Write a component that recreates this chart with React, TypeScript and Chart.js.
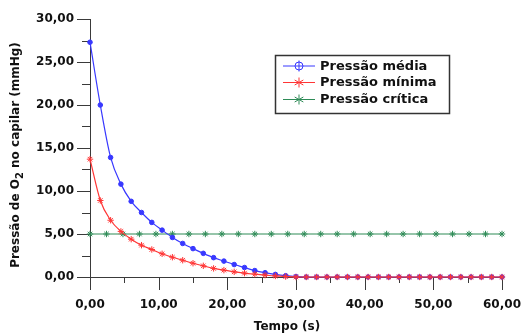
import React, { useEffect, useRef } from "react";
import { Chart, registerables } from "chart.js";

Chart.register(...registerables);

// Time points (s)
const tempoMedia = [0, 1.5, 3, 4.5, 6, 7.5, 9, 10.5, 12, 13.5, 15, 16.5, 18, 19.5, 21, 22.5, 24, 25.5, 27, 28.5, 30, 31.5, 33, 34.5, 36, 37.5, 39, 40.5, 42, 43.5, 45, 46.5, 48, 49.5, 51, 52.5, 54, 55.5, 57, 58.5, 60];
const tempoMinima = [0, 1.5, 3, 4.5, 6, 7.5, 9, 10.5, 12, 13.5, 15, 16.5, 18, 19.5, 21, 22.5, 24, 25.5, 27, 28.5, 30, 31.5, 33, 34.5, 36, 37.5, 39, 40.5, 42, 43.5, 45, 46.5, 48, 49.5, 51, 52.5, 54, 55.5, 57, 58.5, 60];
const tempoCritica = [0, 2.4, 4.8, 7.2, 9.6, 12, 14.4, 16.8, 19.2, 21.6, 24, 26.4, 28.8, 31.2, 33.6, 36, 38.4, 40.8, 43.2, 45.6, 48, 50.4, 52.8, 55.2, 57.6, 60];

// Pressure values (mmHg)
const pressaoMedia = [27.3, 20.0, 13.9, 10.8, 8.8, 7.5, 6.35, 5.45, 4.6, 3.9, 3.3, 2.75, 2.25, 1.85, 1.45, 1.1, 0.75, 0.5, 0.3, 0.15, 0.05, 0, 0, 0, 0, 0, 0, 0, 0, 0, 0, 0, 0, 0, 0, 0, 0, 0, 0, 0, 0];
const pressaoMinima = [13.7, 8.9, 6.6, 5.3, 4.4, 3.7, 3.2, 2.7, 2.3, 1.95, 1.6, 1.3, 1.0, 0.8, 0.6, 0.45, 0.33, 0.22, 0.12, 0.05, 0, 0, 0, 0, 0, 0, 0, 0, 0, 0, 0, 0, 0, 0, 0, 0, 0, 0, 0, 0, 0];
const pressaoCritica = [5, 5, 5, 5, 5, 5, 5, 5, 5, 5, 5, 5, 5, 5, 5, 5, 5, 5, 5, 5, 5, 5, 5, 5, 5, 5];

// Tick marks
const xTickMarks = [0, 5, 10, 15, 20, 25, 30, 35, 40, 45, 50, 55, 60];
const yTickMarks = [0, 2.5, 5, 7.5, 10, 12.5, 15, 17.5, 20, 22.5, 25, 27.5, 30];

const seriesLabels = ["Pressão média", "Pressão mínima", "Pressão crítica"];
const yTitleParts = ["Pressão de O", "2", " no capilar (mmHg)"];
const xTitle = "Tempo (s)";

const BLUE = "#3838ff";
const RED = "#ff3535";
const GREEN = "#2e8b57";
const AXIS = "#3a3a3a";
const FONT = "'DejaVu Sans', Verdana, sans-serif";

const fmt = (v: number) => v.toFixed(2).replace(".", ",");

function drawStar(ctx: CanvasRenderingContext2D, x: number, y: number, r: number) {
  ctx.beginPath();
  for (let k = 0; k < 3; k++) {
    const a = Math.PI / 2 + (k * Math.PI) / 3;
    ctx.moveTo(x + r * Math.cos(a), y + r * Math.sin(a));
    ctx.lineTo(x - r * Math.cos(a), y - r * Math.sin(a));
  }
  ctx.stroke();
}

const decorPlugin = {
  id: "decor",
  beforeDatasetsDraw(chart: any) {
    const ctx = chart.ctx as CanvasRenderingContext2D;
    const { left, right, top, bottom } = chart.chartArea;
    const xs = chart.scales.x;
    const ys = chart.scales.y;
    ctx.save();
    ctx.strokeStyle = AXIS;
    ctx.lineWidth = 1;
    ctx.beginPath();
    ctx.moveTo(Math.round(left) + 0.5, top);
    ctx.lineTo(Math.round(left) + 0.5, bottom);
    ctx.moveTo(left, Math.round(bottom) + 0.5);
    ctx.lineTo(right, Math.round(bottom) + 0.5);
    for (const v of xTickMarks) {
      const px = Math.round(xs.getPixelForValue(v)) + 0.5;
      const len = v % 10 === 0 ? 13 : 6;
      ctx.moveTo(px, bottom);
      ctx.lineTo(px, bottom + len);
    }
    for (const v of yTickMarks) {
      const py = Math.round(ys.getPixelForValue(v)) + 0.5;
      const len = v % 5 === 0 ? 13 : 8;
      ctx.moveTo(left - len, py);
      ctx.lineTo(left, py);
    }
    ctx.stroke();
    ctx.restore();
  },
  afterDraw(chart: any) {
    const ctx = chart.ctx as CanvasRenderingContext2D;
    ctx.save();
    ctx.fillStyle = "#111";
    // Y title with subscript
    ctx.font = `bold 12px ${FONT}`;
    const w1 = ctx.measureText(yTitleParts[0]).width;
    const w3 = ctx.measureText(yTitleParts[2]).width;
    ctx.font = `bold 10px ${FONT}`;
    const w2 = ctx.measureText(yTitleParts[1]).width;
    const total = w1 + w2 + w3;
    ctx.translate(16, 155);
    ctx.rotate(-Math.PI / 2);
    ctx.textBaseline = "middle";
    ctx.textAlign = "left";
    let cx = -total / 2;
    ctx.font = `bold 12px ${FONT}`;
    ctx.fillText(yTitleParts[0], cx, 0);
    cx += w1;
    ctx.font = `bold 10px ${FONT}`;
    ctx.fillText(yTitleParts[1], cx, 4);
    cx += w2;
    ctx.font = `bold 12px ${FONT}`;
    ctx.fillText(yTitleParts[2], cx, 0);
    ctx.restore();

    // X title
    ctx.save();
    ctx.fillStyle = "#111";
    ctx.font = `bold 12px ${FONT}`;
    ctx.textAlign = "center";
    ctx.textBaseline = "middle";
    ctx.fillText(xTitle, 287, 327);
    ctx.restore();

    // Legend
    ctx.save();
    ctx.fillStyle = "#fff";
    ctx.fillRect(275, 55, 174, 58);
    ctx.strokeStyle = "#333";
    ctx.lineWidth = 1.5;
    ctx.strokeRect(275.5, 55.5, 174, 58);
    const colors = [BLUE, RED, GREEN];
    const rows = [65.5, 82, 99];
    for (let i = 0; i < 3; i++) {
      const y = rows[i];
      ctx.strokeStyle = colors[i];
      ctx.lineWidth = 1;
      ctx.beginPath();
      ctx.moveTo(283, y + 0.5);
      ctx.lineTo(315, y + 0.5);
      ctx.stroke();
      if (i === 0) {
        ctx.beginPath();
        ctx.arc(299, y + 0.5, 4, 0, Math.PI * 2);
        ctx.moveTo(299, y - 5);
        ctx.lineTo(299, y + 6);
        ctx.stroke();
      } else {
        drawStar(ctx, 299, y + 0.5, 5);
      }
      ctx.fillStyle = "#111";
      ctx.font = `bold 13px ${FONT}`;
      ctx.textAlign = "left";
      ctx.textBaseline = "middle";
      ctx.fillText(seriesLabels[i], 320, y + 1);
    }
    ctx.restore();
  },
};

export default function App() {
  const ref = useRef<HTMLCanvasElement>(null);
  useEffect(() => {
    document.body.style.margin = "0";
    const canvas = ref.current;
    if (!canvas) return;
    const tickFont = { family: FONT, size: 12, weight: "bold" as const };
    const chart = new Chart(canvas, {
      type: "line",
      data: {
        datasets: [
          {
            label: seriesLabels[0],
            data: tempoMedia.map((t, i) => ({ x: t, y: pressaoMedia[i] })),
            borderColor: BLUE,
            backgroundColor: BLUE,
            pointStyle: "circle",
            pointRadius: 2.3,
            pointBorderWidth: 1,
            borderWidth: 1.2,
            cubicInterpolationMode: "monotone",
            clip: false,
            order: 1,
          },
          {
            label: seriesLabels[1],
            data: tempoMinima.map((t, i) => ({ x: t, y: pressaoMinima[i] })),
            borderColor: RED,
            backgroundColor: RED,
            pointStyle: "star",
            pointRadius: 3.2,
            pointBorderWidth: 1,
            borderWidth: 1.2,
            cubicInterpolationMode: "monotone",
            clip: false,
            order: 0,
          },
          {
            label: seriesLabels[2],
            data: tempoCritica.map((t, i) => ({ x: t, y: pressaoCritica[i] })),
            borderColor: GREEN,
            backgroundColor: GREEN,
            pointStyle: "star",
            pointRadius: 3.2,
            pointBorderWidth: 1,
            borderWidth: 1.2,
            clip: false,
            order: 2,
          },
        ],
      },
      options: {
        responsive: false,
        devicePixelRatio: 1,
        animation: false,
        layout: { padding: { top: 19, right: 20, left: 0, bottom: 0 } },
        plugins: { legend: { display: false }, tooltip: { enabled: false } },
        scales: {
          x: {
            type: "linear",
            min: 0,
            max: 60,
            grid: { display: false, drawTicks: false },
            border: { display: false },
            ticks: {
              stepSize: 10,
              padding: 21,
              maxRotation: 0,
              autoSkip: false,
              color: "#111",
              font: tickFont,
              callback: (v: any) => fmt(Number(v)),
            },
            afterFit: (s: any) => {
              s.height = 58;
              s.paddingLeft = 0;
              s.paddingRight = 0;
            },
          },
          y: {
            min: 0,
            max: 30,
            grid: { display: false, drawTicks: false },
            border: { display: false },
            ticks: {
              stepSize: 5,
              padding: 16,
              color: "#111",
              font: tickFont,
              callback: (v: any) => fmt(Number(v)),
            },
            afterFit: (s: any) => {
              s.width = 90;
              s.paddingTop = 0;
              s.paddingBottom = 0;
            },
          },
        },
      },
      plugins: [decorPlugin],
    });
    return () => chart.destroy();
  }, []);
  return <canvas ref={ref} width={522} height={335} style={{ display: "block" }} />;
}
